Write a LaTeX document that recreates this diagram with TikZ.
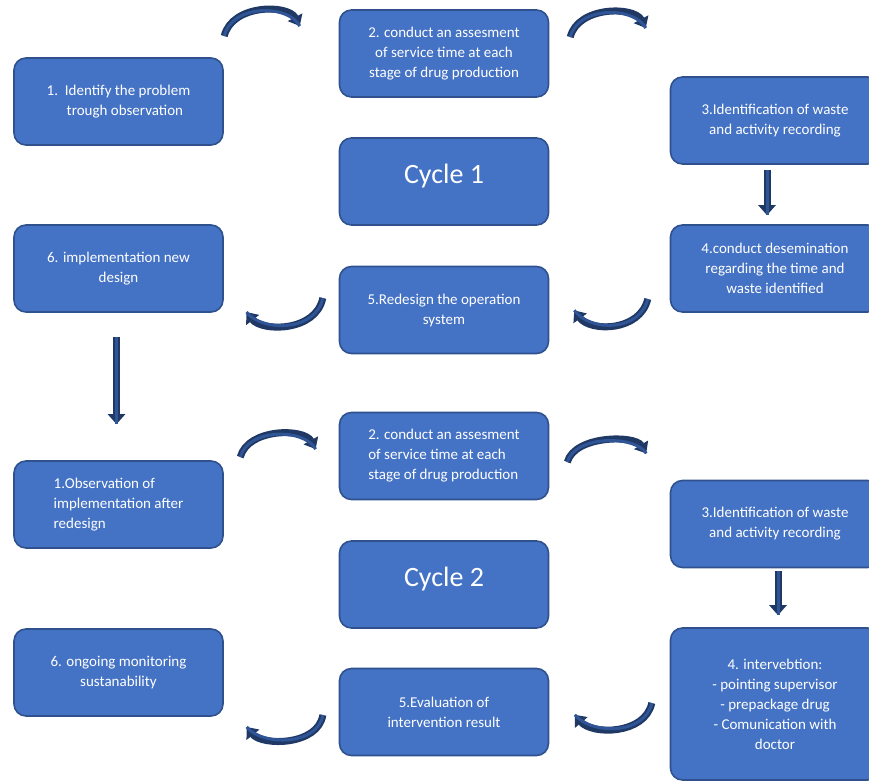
\documentclass[tikz,border=0pt]{standalone}
\usepackage{fontspec}
\setmainfont{Carlito}
\usetikzlibrary{arrows.meta}
\definecolor{boxblue}{HTML}{4472C4}
\definecolor{boxline}{HTML}{2F528F}
\definecolor{arrowblue}{HTML}{1F3864}
\definecolor{arrowfill}{HTML}{2F5597}

\begin{document}
\begin{tikzpicture}[x=1pt, y=-1pt,
	every node/.style={rounded corners=12pt, draw=boxline, line width=1.6pt, fill=boxblue, text=white, align=center, font=\fontsize{15}{20}\selectfont, minimum width=209pt, minimum height=87pt, inner sep=4pt},
	title/.style={font=\fontsize{28}{34}\selectfont, text depth=16pt},
	curl/.style={draw=arrowfill, line width=3pt, shorten >=9pt, shorten <=1pt, preaction={draw=arrowblue, line width=7pt, -{Triangle[length=10pt,width=16pt]}}},
	down/.style={draw=arrowfill, line width=3pt, preaction={draw=arrowblue, line width=7pt, -{Triangle[length=10pt,width=17pt]}}}]
	\useasboundingbox (0,0) rectangle (869,781);
	\clip (0,0) rectangle (869,781);

	% cycle 1
	\node[align=left] (p1) at (118.5,101.5) {1.\ \ Identify the problem\\\hspace{20pt}trough observation};
	\node (p2) at (444,53.5) {2. conduct an assesment\\of service time at each\\stage of drug production};
	\node (p3) at (775,120.5) {3.Identification of waste\\and activity recording};
	\node[title] (cyc1) at (444,181.5) {Cycle 1};
	\node (p4) at (775,268.5) {4.conduct desemination\\regarding the time and\\waste identified};
	\node (p5) at (444,310) {5.Redesign the operation\\system};
	\node (p6) at (118.5,268.5) {6. implementation new\\design};

	% cycle 2
	\node[align=left] (q1) at (118.5,504.5) {1.Observation of\\implementation after\\redesign};
	\node[align=left] (q2) at (444,456) {2. conduct an assesment\\of service time at each\\stage of drug production};
	\node (q3) at (775,524) {3.Identification of waste\\and activity recording};
	\node[title] (cyc2) at (444,584.5) {Cycle 2};
	\node[minimum height=152pt] (q4) at (775,704) {4. intervebtion:\\- pointing supervisor\\- prepackage drug\\- Comunication with\\doctor};
	\node (q5) at (444,712) {5.Evaluation of\\intervention result};
	\node (q6) at (118.5,672.5) {6. ongoing monitoring\\sustanability};

	% straight arrows
	\draw[down, shorten <=5pt, shorten >=9pt] ([xshift=-8pt]p3.south) -- ([xshift=-8pt]p4.north);
	\draw[down, shorten <=24pt, shorten >=36pt] ([xshift=-2pt]p6.south) -- ([xshift=-2pt]q1.north);
	\draw[down, shorten <=3pt, shorten >=12pt] ([xshift=3pt]q3.south) -- ([xshift=3pt]q4.north);

	% curved arrows
	\draw[curl] (224,37) .. controls (232,4) and (288,4) .. (304,34);
	\draw[curl] (570,38) .. controls (578,6) and (634,6) .. (650,36);
	\draw[curl] (648,298) .. controls (640,332) and (590,332) .. (569,303);
	\draw[curl] (323,297) .. controls (316,332) and (262,332) .. (241,305);
	\draw[curl] (240,458) .. controls (248,428) and (304,428) .. (320,457);
	\draw[curl] (567,463) .. controls (575,435) and (635,435) .. (651,461);
	\draw[curl] (652,702) .. controls (645,735) and (592,735) .. (569,708);
	\draw[curl] (323,714) .. controls (318,746) and (262,746) .. (241,720);
\end{tikzpicture}
\end{document}
